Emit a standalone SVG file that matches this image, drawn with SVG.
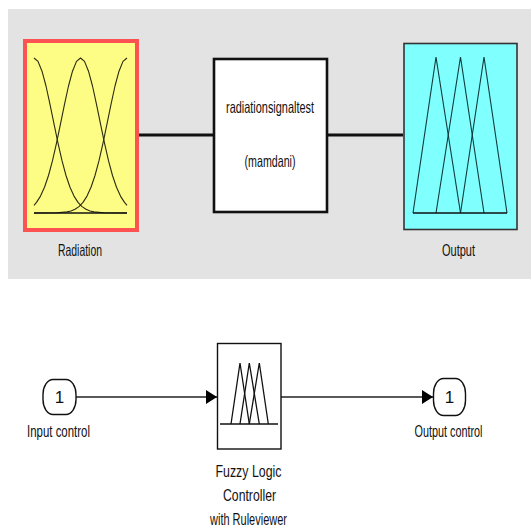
<svg xmlns="http://www.w3.org/2000/svg" width="531" height="530" viewBox="0 0 531 530">
<style>
.lbl{font-family:"Liberation Sans",Arial,sans-serif;font-size:16.5px;fill:#111;text-anchor:middle}
.num{font-family:"Liberation Sans",Arial,sans-serif;font-size:17px;fill:#111;text-anchor:middle}
.mf{fill:none;stroke:#2a2a10;stroke-width:1.1;stroke-linejoin:round}
.tri{fill:none;stroke:#0f3a3a;stroke-width:1.1}
.blk{fill:none;stroke:#111;stroke-width:1.3}
.wire{stroke:#111;stroke-width:3}
.sig{stroke:#222;stroke-width:1.6}
</style>
<defs>
<marker id="arr" markerWidth="11" markerHeight="14" refX="11" refY="7" orient="auto" markerUnits="userSpaceOnUse">
<path d="M0,0 L11,7 L0,14 Z" fill="#000"/>
</marker>
</defs>
<rect x="8" y="9" width="523" height="270" fill="#e3e3e3"/>
<g id="connectors">
<line class="wire" x1="139" y1="135" x2="213" y2="135"/>
<line class="wire" x1="328" y1="135" x2="403" y2="135"/>
<line class="sig" x1="76" y1="397" x2="217" y2="397" marker-end="url(#arr)"/>
<line class="sig" x1="281" y1="397" x2="433" y2="397" marker-end="url(#arr)"/>
</g>
<g id="radiation">
<rect x="25" y="41" width="112" height="189" fill="#fdfd86" stroke="#fd5252" stroke-width="4"/>
<polyline class="mf" points="34,58 38,61.4 42,71.2 46,86 50,104.3 54,123.9 58,143.2 62,160.7 66,175.5 70,187.3 74,196.1 78,202.4 82,206.6 86,209.3 90,211 94,211.9 104,212.8 127,213"/>
<polyline class="mf" points="34,205.3 36.5,202.4 40.5,196.1 44.5,187.3 48.5,175.5 52.5,160.7 56.5,143.2 60.5,123.9 64.5,104.3 68.5,86 72.5,71.2 76.5,61.4 80.5,58 84.5,61.4 88.5,71.2 92.5,86 96.5,104.3 100.5,123.9 104.5,143.2 108.5,160.7 112.5,175.5 116.5,187.3 120.5,196.1 124.5,202.4 127,205.3"/>
<polyline class="mf" points="127,58 123,61.4 119,71.2 115,86 111,104.3 107,123.9 103,143.2 99,160.7 95,175.5 91,187.3 87,196.1 83,202.4 79,206.6 75,209.3 71,211 67,211.9 57,212.8 34,213"/>
<line x1="34" y1="213" x2="127" y2="213" stroke="#111" stroke-width="1.3"/>
<text class="lbl" x="80" y="256" textLength="44" lengthAdjust="spacingAndGlyphs">Radiation</text>
</g>
<g id="system">
<rect x="214" y="59" width="113" height="153" fill="#fff" stroke="#111" stroke-width="2.6"/>
<text class="lbl" x="270" y="113" textLength="88" lengthAdjust="spacingAndGlyphs">radiationsignaltest</text>
<text class="lbl" x="270" y="167" textLength="51" lengthAdjust="spacingAndGlyphs">(mamdani)</text>
</g>
<g id="output">
<rect x="404" y="43.5" width="113" height="186" fill="#80ffff" stroke="#333" stroke-width="1.6"/>
<polyline class="tri" points="413,213 436,57 460.5,213"/>
<polyline class="tri" points="436,213 460.5,57 484,213"/>
<polyline class="tri" points="460.5,213 484,57 507,213"/>
<line x1="413" y1="213" x2="507" y2="213" stroke="#111" stroke-width="1.3"/>
<text class="lbl" x="458.5" y="256" textLength="33" lengthAdjust="spacingAndGlyphs">Output</text>
</g>
<g id="input-control">
<rect x="43" y="379.5" width="33" height="35" rx="10" ry="15" fill="#fff" stroke="#111" stroke-width="1.4"/>
<text class="num" x="59.5" y="403">1</text>
<text class="lbl" x="58.5" y="437" textLength="63" lengthAdjust="spacingAndGlyphs">Input control</text>
</g>
<g id="flc">
<rect x="217.5" y="343.5" width="63.5" height="105.5" fill="#fff" stroke="#111" stroke-width="1.4"/>
<polyline class="blk" points="231,424 240,363 249.3,424"/>
<polyline class="blk" points="240,424 249.3,363 259.3,424"/>
<polyline class="blk" points="249.3,424 259.3,363 268.3,424"/>
<line x1="220" y1="424" x2="278" y2="424" stroke="#111" stroke-width="1.4"/>
<text class="lbl" x="248.5" y="477" textLength="66" lengthAdjust="spacingAndGlyphs">Fuzzy Logic</text>
<text class="lbl" x="249.5" y="500.5" textLength="53" lengthAdjust="spacingAndGlyphs">Controller</text>
<text class="lbl" x="248.5" y="525" textLength="77" lengthAdjust="spacingAndGlyphs">with Ruleviewer</text>
</g>
<g id="output-control">
<rect x="433.5" y="378.5" width="32" height="37" rx="10" ry="15" fill="#fff" stroke="#111" stroke-width="1.4"/>
<text class="num" x="449.5" y="403">1</text>
<text class="lbl" x="448.5" y="437" textLength="68" lengthAdjust="spacingAndGlyphs">Output control</text>
</g>
</svg>
